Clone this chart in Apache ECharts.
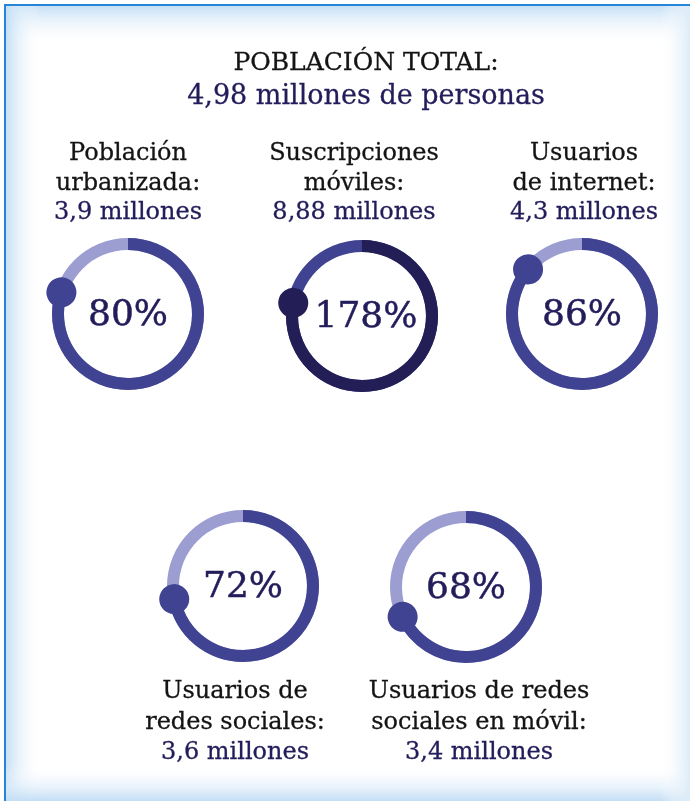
<!DOCTYPE html>
<html>
<head>
<meta charset="utf-8">
<script src="https://cdn.jsdelivr.net/npm/echarts@6/dist/echarts.min.js"></script>
<style>
html,body{margin:0;padding:0;background:#fff;}
#chart{width:690px;height:801px;}
</style>
</head>
<body>
<div id="chart"></div>
<script>
// ---- data ----
const titleLine = "POBLACIÓN TOTAL:";
const subtitleLine = "4,98 millones de personas";
const labelLines = [
  ["Población", "urbanizada:"],
  ["Suscripciones", "móviles:"],
  ["Usuarios", "de internet:"],
  ["Usuarios de", "redes sociales:"],
  ["Usuarios de redes", "sociales en móvil:"]
];
const valueLabels = ["3,9 millones", "8,88 millones", "4,3 millones", "3,6 millones", "3,4 millones"];
const percents = [80, 178, 86, 72, 68];

// ---- layout ----
const ringCenters = [[128, 314], [362, 316], [582, 314], [243, 586], [466, 587]];
const labelX = [128, 354, 584, 235, 479];
const labelY = [[154, 184, 213], [154, 184, 213], [154, 184, 213], [692, 723, 753], [692, 723, 753]];
const FONT = '"DejaVu Serif", "Liberation Serif", serif';
const MID = '#3f4391', LIGHT = '#9c9ed2', DARK = '#241e56';
const NAVY = '#221d5a', BLACK = '#141414';
const GLOW = '#c3def5';

const chart = echarts.init(document.getElementById('chart'), null, {renderer: 'canvas'});

function grad(x, y, x2, y2, c0, c1) {
  return new echarts.graphic.LinearGradient(x, y, x2, y2, [{offset: 0, color: c0}, {offset: 1, color: c1}]);
}
const T = 'rgba(255,255,255,0)';
const graphics = [
  {type: 'rect', shape: {x: 5, y: 5, width: 700, height: 40}, style: {fill: grad(0, 0, 0, 1, GLOW, T)}, z: -10},
  {type: 'rect', shape: {x: 5, y: 5, width: 36, height: 800}, style: {fill: grad(0, 0, 1, 0, GLOW, T)}, z: -10},
  {type: 'rect', shape: {x: 5, y: 765, width: 700, height: 36}, style: {fill: grad(0, 0, 0, 1, T, GLOW)}, z: -10},
  {type: 'rect', shape: {x: 660, y: 5, width: 30, height: 800}, style: {fill: grad(0, 0, 1, 0, T, '#dcebf8')}, z: -10},
  {type: 'rect', shape: {x: 4, y: 4, width: 2, height: 800}, style: {fill: '#2585d6'}, z: -8},
  {type: 'rect', shape: {x: 4, y: 4, width: 690, height: 2}, style: {fill: '#2585d6'}, z: -8},
  {type: 'text', x: 366, y: 63, style: {text: titleLine, font: '25px ' + FONT, fill: BLACK, stroke: BLACK, lineWidth: 0.3, textAlign: 'center', textVerticalAlign: 'middle'}},
  {type: 'text', x: 366, y: 97, style: {text: subtitleLine, font: '27px ' + FONT, fill: NAVY, stroke: NAVY, lineWidth: 0.3, textAlign: 'center', textVerticalAlign: 'middle'}}
];
labelLines.forEach((lines, i) => {
  lines.forEach((t, j) => {
    graphics.push({type: 'text', x: labelX[i], y: labelY[i][j], style: {text: t, font: '24px ' + FONT, fill: BLACK, stroke: BLACK, lineWidth: 0.3, textAlign: 'center', textVerticalAlign: 'middle'}});
  });
  graphics.push({type: 'text', x: labelX[i], y: labelY[i][2], style: {text: valueLabels[i], font: '24px ' + FONT, fill: NAVY, stroke: NAVY, lineWidth: 0.3, textAlign: 'center', textVerticalAlign: 'middle'}});
});

const R = 76, W = 12, DOT = 30;
const series = percents.map((p, i) => {
  const over = p > 100;
  const fg = over ? DARK : MID;
  const bg = over ? MID : LIGHT;
  return {
    type: 'gauge',
    center: ringCenters[i],
    radius: R,
    startAngle: 90,
    endAngle: -270,
    min: 0,
    max: 100,
    animation: false,
    axisLine: {lineStyle: {width: W, color: [[1, bg]]}},
    progress: {show: true, width: W, itemStyle: {color: fg}},
    pointer: {show: true, icon: 'circle', width: DOT, length: DOT, keepAspect: true,
      offsetCenter: [0, -(R - W / 2) + DOT / 2], itemStyle: {color: fg}},
    anchor: {show: false},
    axisTick: {show: false},
    splitLine: {show: false},
    axisLabel: {show: false},
    title: {show: false},
    detail: {offsetCenter: [over ? 4 : 0, 2], formatter: () => p + '%', fontSize: 36, fontFamily: FONT,
      fontWeight: 'normal', color: NAVY, textBorderColor: NAVY, textBorderWidth: 0.5},
    data: [{value: over ? p - 100 : p}]
  };
});

chart.setOption({
  animation: false,
  graphic: graphics,
  series: series
});
</script>
</body>
</html>
